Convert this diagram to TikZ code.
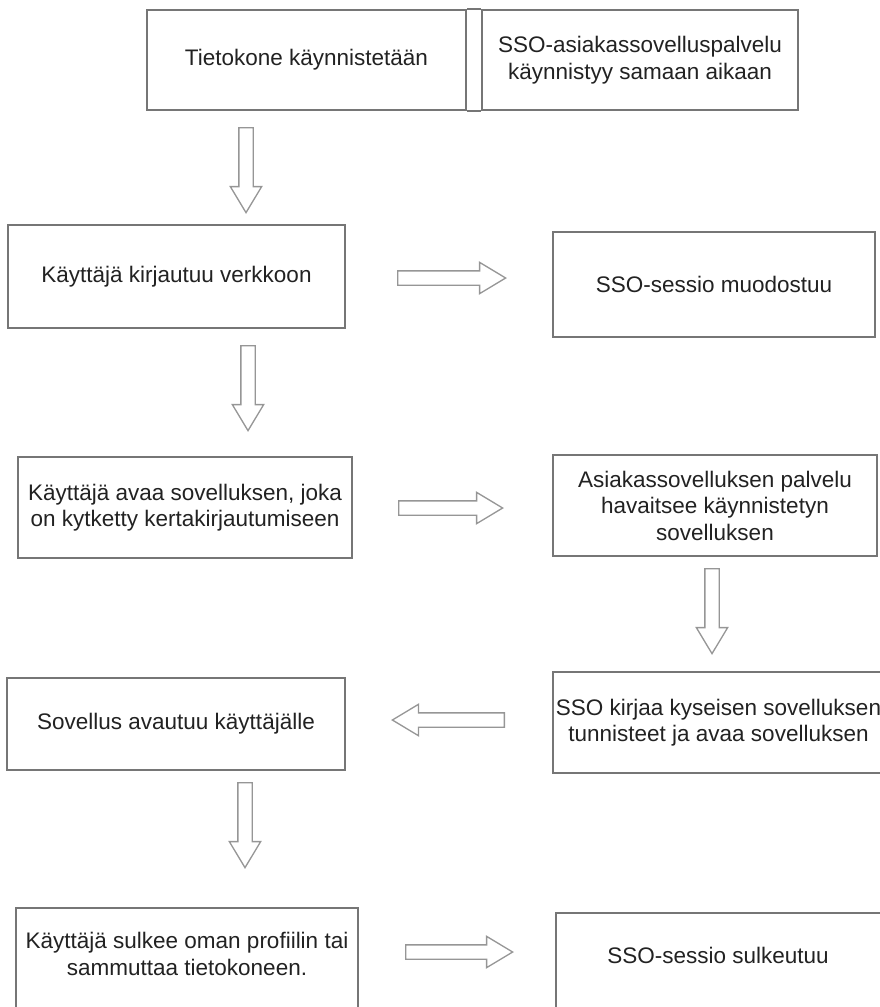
\documentclass[tikz,border=0pt]{standalone}
\usepackage{fontspec}
\setmainfont{Liberation Sans}
\usetikzlibrary{shapes.arrows}
\definecolor{boxline}{RGB}{118,118,118}
\definecolor{arrowline}{RGB}{150,150,150}
\definecolor{ink}{RGB}{34,34,34}
\begin{document}
\begin{tikzpicture}[x=1pt,y=-1pt,
  stepbox/.style={draw=boxline, line width=2.4pt, fill=white, inner sep=0pt},
  txt/.style={text=ink, align=center, font=\fontsize{22.5}{26.5}\selectfont, inner sep=0pt},
  barrow/.style={shape=single arrow, draw=arrowline, line width=1.3pt, fill=white,
    inner xsep=0pt, inner ysep=6.5pt, single arrow head extend=8.5pt,
    single arrow tip angle=62, minimum height=#1, anchor=tail},
]
\useasboundingbox (0,0) rectangle (880,1007);

% start-up: two cells separated by a double rule
\node[stepbox, txt, minimum width=319, minimum height=100] (t1) at (306.5,60) {Tietokone käynnistetään};
\node[stepbox, txt, minimum width=316, minimum height=100] (t2) at (640,60) {SSO-asiakassovelluspalvelu\\käynnistyy samaan aikaan};
\draw[draw=boxline, line width=2.4pt] (t1.north east) -- (t2.north west);
\draw[draw=boxline, line width=2.4pt] (t1.south east) -- (t2.south west);

% login
\node[stepbox, txt, minimum width=337, minimum height=103] (a) at (176.5,276.5) {Käyttäjä kirjautuu verkkoon};
\node[stepbox, txt, minimum width=322, minimum height=105] (b) at (714,284.5) {SSO-sessio muodostuu};

% application start
\node[stepbox, txt, minimum width=334, minimum height=101] (c) at (185,507.5) {Käyttäjä avaa sovelluksen, joka\\on kytketty kertakirjautumiseen};
\node[stepbox, txt, minimum width=324, minimum height=101] (d) at (715,505.5) {Asiakassovelluksen palvelu\\havaitsee käynnistetyn\\sovelluksen};

% credentials filled in
\node[stepbox, txt, minimum width=331, minimum height=101] (e) at (718.5,722.5) {SSO kirjaa kyseisen sovelluksen\\tunnisteet ja avaa sovelluksen};
\node[stepbox, txt, minimum width=338, minimum height=92] (f) at (176,724) {Sovellus avautuu käyttäjälle};

% logout (boxes run past the lower edge)
\node[stepbox, minimum width=342, minimum height=113, anchor=north] (g) at (187,907) {};
\node[txt] (gt) at (187,954) {Käyttäjä sulkee oman profiilin tai\\sammuttaa tietokoneen.};
\node[stepbox, minimum width=328, minimum height=108, anchor=north] (h) at (720,912) {};
\node[txt] (ht) at (718,955) {SSO-sessio sulkeutuu};

% hollow block arrows
\node[barrow=85, rotate=-90] (d1) at (246,127) {};
\node[barrow=108] (r1) at (397,278) {};
\node[barrow=85, rotate=-90] (d2) at (248,345) {};
\node[barrow=104] (r2) at (398,508) {};
\node[barrow=85, rotate=-90] (d3) at (712,568) {};
\node[barrow=112, rotate=180] (r3) at (505,720) {};
\node[barrow=85, rotate=-90] (d4) at (245,782) {};
\node[barrow=107] (r4) at (405,952) {};
\end{tikzpicture}
\end{document}
